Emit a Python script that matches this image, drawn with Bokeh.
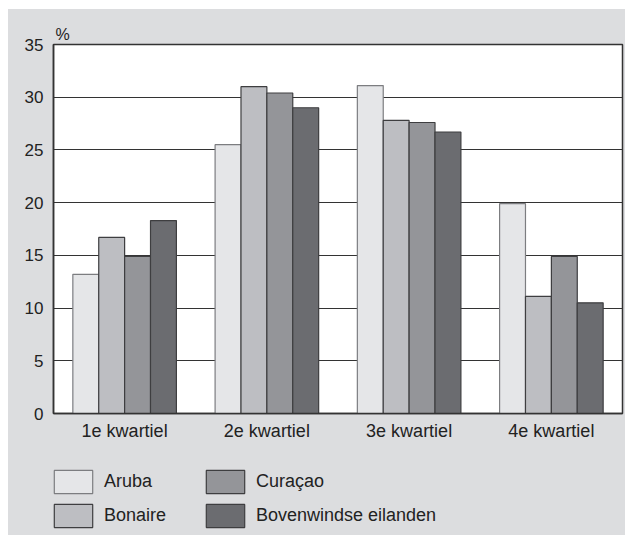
from bokeh.plotting import figure
from bokeh.models import FactorRange, Legend, LegendItem, FixedTicker, ColumnDataSource
from bokeh.transform import dodge
from bokeh.layouts import column
from bokeh.embed import file_html
from bokeh.resources import INLINE

categories = ["1e kwartiel", "2e kwartiel", "3e kwartiel", "4e kwartiel"]
series_names = ["Aruba", "Bonaire", "Curaçao", "Bovenwindse eilanden"]
aruba = [13.2, 25.5, 31.1, 19.9]
bonaire = [16.7, 31.0, 27.8, 11.1]
curacao = [14.9, 30.4, 27.6, 14.9]
bovenwindse = [18.3, 29.0, 26.7, 10.5]
y_ticks = [0, 5, 10, 15, 20, 25, 30, 35]

fills = ["#e5e6e8", "#bdbec2", "#949599", "#6b6c70"]
lines = ["#7c7d80", "#3e3e40", "#3e3e40", "#3e3e40"]
FONT = "Liberation Sans"
BG = "#dcdddf"

src = ColumnDataSource(dict(cat=categories, a=aruba, b=bonaire, c=curacao, d=bovenwindse))

p = figure(x_range=FactorRange(*categories, range_padding=0), y_range=(0, 35),
           width=617, height=451, output_backend="svg", toolbar_location=None,
           min_border_left=45, min_border_top=35, min_border_right=3, min_border_bottom=47,
           title="%")
p.background_fill_color = "white"
p.border_fill_color = BG
p.outline_line_color = "#333333"
p.outline_line_width = 1.5

p.title.align = "left"
p.title.offset = 2
p.title.standoff = 4
p.title.text_font = FONT
p.title.text_font_size = "16px"
p.title.text_font_style = "normal"
p.title.text_color = "#222222"

bw = 0.182
offsets = [-1.5 * bw, -0.5 * bw, 0.5 * bw, 1.5 * bw]
cols = ["a", "b", "c", "d"]
for col, off, fc, lc in zip(cols, offsets, fills, lines):
    p.vbar(x=dodge("cat", off, range=p.x_range), top=col, width=bw, source=src,
           fill_color=fc, line_color=lc, line_width=1.2)

p.xgrid.grid_line_color = None
p.ygrid.grid_line_color = "#333333"
p.ygrid.grid_line_width = 1.2
p.yaxis.ticker = FixedTicker(ticks=y_ticks)

for ax in (p.xaxis[0], p.yaxis[0]):
    ax.major_tick_line_color = None
    ax.minor_tick_line_color = None
    ax.major_tick_out = 0
    ax.major_tick_in = 0
    ax.minor_tick_out = 0
    ax.axis_line_color = "#333333"
    ax.axis_line_width = 1.5
    ax.major_label_text_font = FONT
    ax.major_label_text_color = "#222222"
p.yaxis.major_label_text_font_size = "17px"
p.yaxis.major_label_standoff = 10
p.xaxis.major_label_text_font_size = "18px"
p.xaxis.major_label_standoff = 7

# legend figure (same series, hidden renderers, only the legend is shown)
lg = figure(width=617, height=75, output_backend="svg", toolbar_location=None,
            x_range=FactorRange(*categories), y_range=(0, 35),
            min_border_left=45, min_border_top=7, min_border_right=3, min_border_bottom=0)
lg.background_fill_color = BG
lg.border_fill_color = BG
lg.outline_line_color = None
lg.axis.visible = False
lg.grid.visible = False
lrs = []
for col, off, fc, lc in zip(cols, offsets, fills, lines):
    r = lg.vbar(x=dodge("cat", off, range=lg.x_range), top=col, width=bw, source=src,
                fill_color=fc, line_color=lc, line_width=1.2)
    r.visible = False
    lrs.append(r)

order = [0, 2, 1, 3]
items = [LegendItem(label=series_names[i], renderers=[lrs[i]]) for i in order]
legend = Legend(items=items, ncols=2, orientation="horizontal", location=(-4, 5),
                glyph_width=48, glyph_height=29, label_standoff=7, spacing=5,
                label_width=92, margin=0, padding=0,
                background_fill_alpha=0, border_line_color=None,
                inactive_fill_alpha=0, click_policy="none",
                label_text_font=FONT, label_text_font_size="18px", label_text_color="#222222")
lg.add_layout(legend, "center")

layout = column(p, lg, spacing=0)
layout.margin = (9, 0, 0, 8)
layout.styles = {"background-color": BG}

open("out.html", "w").write(file_html(layout, INLINE))
